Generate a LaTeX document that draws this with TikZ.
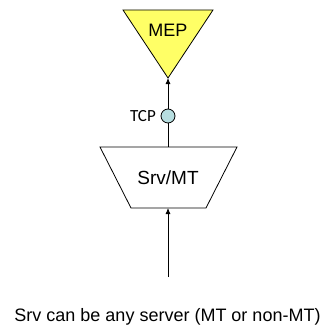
\documentclass[tikz,border=0pt]{standalone}
\usepackage{fontspec}
\setmainfont{Liberation Sans}
\newfontfamily\calibri{Carlito}
\usetikzlibrary{arrows.meta}
\definecolor{mepyellow}{HTML}{FFFF66}
\definecolor{tcpcyan}{HTML}{B7DEE0}
\begin{document}
\begin{tikzpicture}[
        x=1pt, y=-1pt,
        shapeline/.style={draw=black, line width=0.8pt, line join=miter},
        arrow/.style={-{Latex[length=6pt, width=5pt]}, line width=0.8pt},
        label/.style={inner sep=0pt, font=\fontsize{18}{20}\selectfont}
    ]
        \useasboundingbox (0,0) rectangle (327,329);

        % MEP (triangle pointing down)
        \draw[shapeline, fill=mepyellow] (123,10) -- (213,10) -- (168,78) -- cycle;
        \coordinate (mepTip) at (168,78);
        \node[label] (mep) at (168,30) {MEP};

        % Srv/MT (trapezoid)
        \draw[shapeline, fill=white] (100,147) -- (237,147) -- (206,208) -- (131,208) -- cycle;
        \coordinate (srvTop) at (168,147);
        \coordinate (srvBottom) at (168,208);
        \node[label, font=\fontsize{19}{21}\selectfont] (srv) at (168,178) {Srv/MT};

        % Arrows up
        \draw[arrow] (srvTop) -- (mepTip);
        \coordinate (inStart) at (168,277);
        \draw[arrow] (inStart) -- (srvBottom);

        % TCP point
        \node[circle, draw, line width=0.8pt, fill=tcpcyan, minimum size=14pt, inner sep=0pt] (tcp) at (168,116) {};
        \node[inner sep=0pt, anchor=east, font=\calibri\fontsize{17}{19}\selectfont] (tcpLabel) at (156,116) {TCP};

        % Note
        \node[label] (note) at (167.5,317) {Srv can be any server (MT or non-MT)};
    \end{tikzpicture}
\end{document}
